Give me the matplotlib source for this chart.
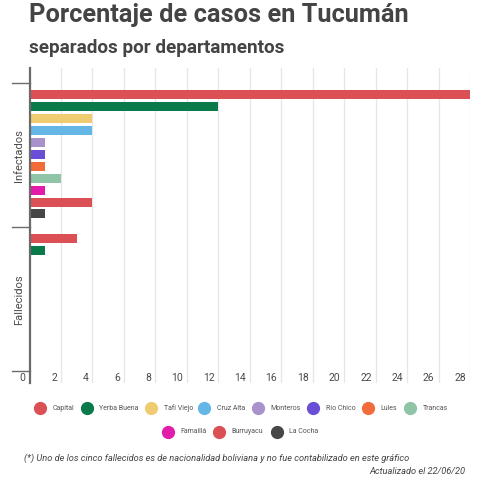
import numpy as np
import matplotlib.pyplot as plt
from matplotlib.lines import Line2D

# === data ===
groups = ['Infectados', 'Fallecidos']
departamentos = ['Capital', 'Yerba Buena', 'Tafí Viejo', 'Cruz Alta', 'Monteros',
                 'Río Chico', 'Lules', 'Trancas', 'Famaillá', 'Burruyacu', 'La Cocha']
infectados = [28, 12, 4, 4, 1, 1, 1, 2, 1, 4, 1]
fallecidos = [3, 1, 0, 0, 0, 0, 0, 0, 0, 0, 0]
colores = ['#db5055', '#0b7a4b', '#efcb72', '#63b6e6', '#a992cb', '#6a4fd6',
           '#f26b3b', '#90c4a6', '#e31bab', '#db5055', '#474747']
x_ticks = list(range(0, 29, 2))

titulo = 'Porcentaje de casos en Tucumán'
subtitulo = 'separados por departamentos'
nota = '(*) Uno de los cinco fallecidos es de nacionalidad boliviana y no fue contabilizado en este gráfico'
actualizado = 'Actualizado el 22/06/20'

plt.rcParams['font.family'] = ['Roboto', 'DejaVu Sans']
W, H = 499, 484
fig = plt.figure(figsize=(W / 100, H / 100), dpi=100)

# pixel helper for layout
def fx(px):
    return px / W

def fy(py):
    return 1 - py / H

ax_l, ax_r, ax_t, ax_b = 29.5, 470, 68, 383
ax = fig.add_axes([fx(ax_l), fy(ax_b), fx(ax_r - ax_l), (ax_b - ax_t) / H])

slot = 11.9          # px per bar
grp = 144 / slot     # group height in slots
bar_h = 0.76
vals = [infectados, fallecidos]
for g, serie in enumerate(vals):
    for j, v in enumerate(serie):
        ax.barh(g * grp + 0.98 + j, v, height=bar_h, color=colores[j], zorder=3)

ax.set_xlim(0, 28)
top_ = -(83.3 - ax_t) / slot
bot_ = (ax_b - 83.3) / slot
ax.set_ylim(bot_, top_)

for t in x_ticks[1:]:
    ax.axvline(t, color='#e6e6e6', lw=0.9, zorder=1)
for sp in ['top', 'right', 'bottom']:
    ax.spines[sp].set_visible(False)
ax.spines['left'].set_color('#6b6b6b')
ax.spines['left'].set_linewidth(1.6)
ax.spines['left'].set_zorder(4)
ax.set_xticks([])
ax.set_yticks([])

# x tick labels inside the bottom band
for t in x_ticks:
    ax.annotate(str(t), xy=(t, 378 / slot - 83.3 / slot), xycoords='data',
                xytext=(-4, 0), textcoords='offset pixels',
                ha='right', va='center', fontsize=7.5, color='#4a4a4a')

# group boundary ticks and labels
for g in range(len(groups) + 1):
    ax.plot([-18 / 15.75, 0], [g * grp, g * grp], color='#6b6b6b', lw=1.0,
            clip_on=False, zorder=4)
for g, name in enumerate(groups):
    ax.annotate(name, xy=(0, g * grp + grp / 2), xycoords='data',
                xytext=(-10.5, 0), textcoords='offset pixels',
                rotation=90, ha='center', va='center', fontsize=8, color='#4a4a4a')

# titles
fig.text(fx(29), fy(22), titulo, fontsize=18.3, fontweight='bold',
         color='#444444', ha='left', va='baseline')
fig.text(fx(29), fy(53), subtitulo, fontsize=13.6, fontweight='bold',
         color='#444444', ha='left', va='baseline')

# legend
leg_rows = [list(range(8)), [8, 9, 10]]
leg_x = [[40, 86.7, 151, 204.3, 258.3, 313.3, 367.7, 410],
         [167.7, 219.3, 276.7]]
leg_y = [408, 431.5]
for r, idxs in enumerate(leg_rows):
    for k, j in enumerate(idxs):
        cx = leg_x[r][k]
        fig.add_artist(Line2D([fx(cx)], [fy(leg_y[r])], marker='o', markersize=8.5,
                              color=colores[j], linestyle='none',
                              transform=fig.transFigure))
        fig.text(fx(cx + 12.5), fy(leg_y[r]), departamentos[j], fontsize=5,
                 color='#555555', ha='left', va='center')

fig.text(fx(24), fy(458), nota, fontsize=6.7, style='italic', color='#444444',
         ha='left', va='center')
fig.text(fx(465), fy(472), actualizado, fontsize=6.7, style='italic', color='#444444',
         ha='right', va='center')

fig.savefig('out.png', dpi=100)
